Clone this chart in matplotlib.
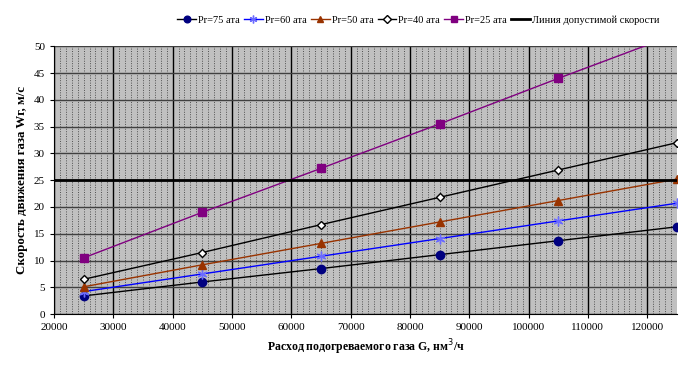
import matplotlib.pyplot as plt
from matplotlib.ticker import MultipleLocator

# Данные с графика
расход = [25000, 45000, 65000, 85000, 105000, 125000]
pr75 = [3.4, 6.0, 8.5, 11.1, 13.7, 16.3]
pr60 = [4.2, 7.5, 10.8, 14.1, 17.4, 20.7]
pr50 = [5.1, 9.2, 13.2, 17.2, 21.2, 25.2]
pr40 = [6.5, 11.5, 16.7, 21.8, 26.9, 32.0]
pr25 = [10.5, 19.0, 27.2, 35.5, 44.0, 52.3]
допустимая = 25

plt.rcParams['font.family'] = ['Liberation Serif', 'DejaVu Serif']

fig = plt.figure(figsize=(7, 3.7), dpi=100)
ax = fig.add_axes([0.077, 0.151, 0.890, 0.724])
ax.set_facecolor('#c0c0c0')

# сетка
ax.xaxis.set_major_locator(MultipleLocator(10000))
ax.xaxis.set_minor_locator(MultipleLocator(1000))
ax.yaxis.set_major_locator(MultipleLocator(5))
ax.grid(True, which='minor', axis='x', color='#505050', lw=0.7, ls=(0, (1, 1.5)))
ax.grid(True, which='major', axis='x', color='black', lw=1.0)
ax.grid(True, which='major', axis='y', color='#404040', lw=1.0)
ax.tick_params(which='minor', length=0)
ax.tick_params(which='major', labelsize=8, length=3, direction='out')

ax.plot(расход, pr75, color='black', lw=1, marker='o', ms=6,
        mfc='#000080', mec='#000080', label='Pr=75 ата')
ax.plot(расход, pr60, color='#0000ff', lw=1, marker=(6, 2, 0), ms=7, mew=1,
        mfc='#6b6bff', mec='#6b6bff', label='Pr=60 ата')
ax.plot(расход, pr50, color='#993300', lw=1, marker='^', ms=6,
        mfc='#993300', mec='#993300', label='Pr=50 ата')
ax.plot(расход, pr40, color='black', lw=1, marker='D', ms=4.5,
        mfc='white', mec='black', label='Pr=40 ата')
ax.plot(расход, pr25, color='#800080', lw=1, marker='s', ms=6,
        mfc='#800080', mec='#800080', label='Pr=25 ата')
ax.axhline(допустимая, color='black', lw=2, label='Линия допустимой скорости')

ax.set_xlim(20000, 125000)
ax.set_ylim(0, 50)
for s in ax.spines.values():
    s.set_visible(False)
ax.spines['left'].set_visible(True)
ax.spines['bottom'].set_visible(True)

ax.set_xlabel('Расход подогреваемого газа G, нм$^3$/ч', fontsize=8.5, fontweight='bold')
ax.set_ylabel('Скорость движения газа Wг, м/с', fontsize=9.3, fontweight='bold')

ax.legend(loc='lower center', bbox_to_anchor=(0.585, 1.065), ncol=6, frameon=False,
          fontsize=7.5, handlelength=1.8, handletextpad=0.2, columnspacing=0.4,
          borderaxespad=0, markerscale=0.8)

fig.savefig('out.png', dpi=100)
